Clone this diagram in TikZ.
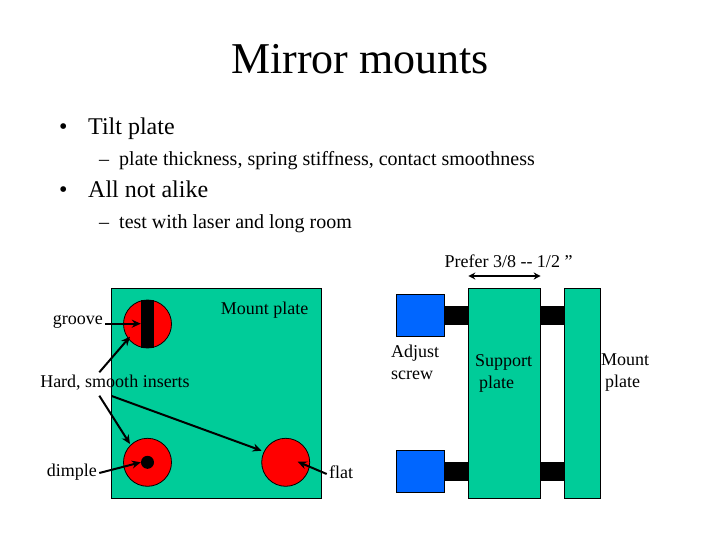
\documentclass[tikz,border=0pt]{standalone}
\usepackage{fontspec}
\setmainfont{Liberation Serif}
\usetikzlibrary{arrows.meta,positioning,calc}
\definecolor{plategreen}{HTML}{00CC99}
\definecolor{insertred}{HTML}{FF0000}
\definecolor{screwblue}{HTML}{0066FF}
\tikzset{
  platebox/.style = {draw=black, fill=plategreen, line width=0.8pt, inner sep=0pt, outer sep=0pt},
  screwbox/.style = {draw=black, fill=screwblue, line width=0.8pt, inner sep=0pt, outer sep=0pt,
                     minimum width=48pt, minimum height=42pt},
  insert/.style   = {circle, draw=black, fill=insertred, line width=0.8pt, inner sep=0pt, minimum size=48pt},
  stem/.style     = {draw=black, line width=18.7pt},
  flow/.style     = {-{Stealth[length=9pt,width=8pt]}, draw=black, line width=2pt},
  label/.style    = {font=\fontsize{18}{22}\selectfont, inner sep=0pt, align=left},
  head/.style     = {font=\fontsize{24}{28}\selectfont, inner sep=0pt, anchor=base west},
  subhead/.style  = {font=\fontsize{20}{24}\selectfont, inner sep=0pt, anchor=base west},
}
\begin{document}
\begin{tikzpicture}[x=1pt,y=-1pt]
    \useasboundingbox (0,0) rectangle (720,540);
    % heading and bullets
    \node[font=\fontsize{44}{50}\selectfont,inner sep=0pt,anchor=base] (title) at (360,74) {Mirror mounts};
    \node[head] (tilt) at (59,135) {\makebox[29pt][l]{•}Tilt plate};
    \node[subhead] (thick) at (99,165.5) {\makebox[20pt][l]{–}plate thickness, spring stiffness, contact smoothness};
    \node[head] (alike) at (59,198) {\makebox[29pt][l]{•}All not alike};
    \node[subhead] (laser) at (99,228.5) {\makebox[20pt][l]{–}test with laser and long room};
    % left: front view
    \node[platebox,minimum width=210pt,minimum height=210pt] (front) at (216.7,393.2) {};
    \node[insert] (grooveins) at (147.5,324) {};
    \node[insert] (dimpleins) at (147.5,462.3) {};
    \node[insert] (flatins) at (285.7,462.3) {};
    \node[fill=black,inner sep=0pt,minimum width=13pt,minimum height=48pt] (groovebar) at (147.5,324) {};
    \node[circle,fill=black,inner sep=0pt,minimum size=13pt] (dimpledot) at (147.5,462.3) {};
    \node[label,anchor=east] (groove) at (103,322) {groove};
    \node[label] (frontname) at (264.5,310) {Mount plate};
    \node[label] (hard) at (115,383) {Hard, smooth inserts};
    \node[label,anchor=east] (dimple) at (97,472) {dimple};
    \node[label,anchor=west] (flat) at (329,472) {flat};
    \coordinate (hardup) at (99.3,372.3);
    \coordinate (harddown) at (99.3,395.7);
    \coordinate (hardright) at (111.7,396);
    \draw[flow] (105,323.7) -- (groovebar.west |- 0,323.7);
    \draw[flow] (hardup) -- (130,336.7);
    \draw[flow] (harddown) -- (130,444);
    \draw[flow] (hardright) -- (261.7,450.7);
    \draw[flow] (99.3,473) -- (dimpledot.west);
    \draw[flow] (326.7,474) -- (297.7,461.7);
    % right: side view
    \node[platebox,minimum width=72.4pt,minimum height=210pt] (support) at (504.5,393.2) {};
    \node[platebox,minimum width=36pt,minimum height=210pt] (mount) at (582.3,393.2) {};
    \node[screwbox] (screwtop) at (420.3,315.4) {};
    \node[screwbox] (screwlow) at (420.3,471.3) {};
    \draw[stem] (screwtop.east) -- (screwtop.east -| support.west);
    \draw[stem] (screwlow.east) -- (screwlow.east -| support.west);
    \draw[stem] (screwtop.east -| support.east) -- (screwtop.east -| mount.west);
    \draw[stem] (screwlow.east -| support.east) -- (screwlow.east -| mount.west);
    \node[label,anchor=north west] (adjust) at (391,345) {Adjust\\screw};
    \node[label,anchor=north west] (suplabel) at (475,354) {Support\\\hspace{4pt}plate};
    \node[label,anchor=north west] (mountlabel) at (601,354) {Mount\\\hspace{4pt}plate};
    \node[label] (prefer) at (508.5,261.5) {Prefer 3/8 {-}{-} 1/2 ”};
    \coordinate (prefl) at (support.west |- 0,276);
    \coordinate (prefr) at (support.east |- 0,276);
    \draw[{Stealth[length=7pt,width=7pt]}-{Stealth[length=7pt,width=7pt]},line width=1.2pt] (prefl) -- (prefr);
  \end{tikzpicture}
\end{document}
